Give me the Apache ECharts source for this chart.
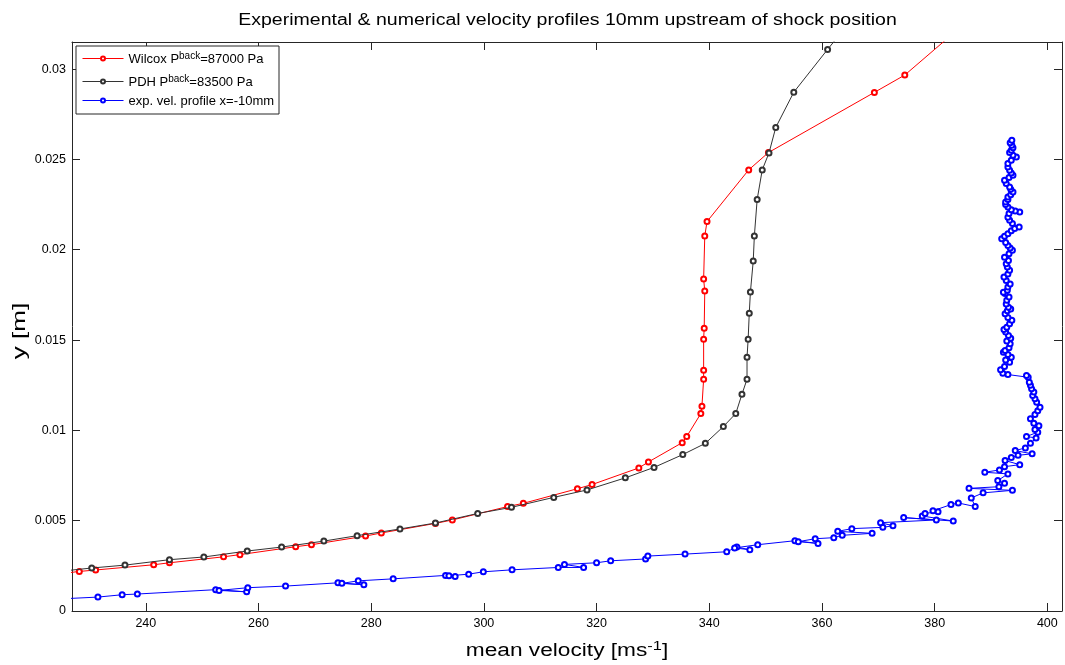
<!DOCTYPE html>
<html>
<head>
<meta charset="utf-8">
<script src="https://cdn.jsdelivr.net/npm/echarts@6/dist/echarts.min.js"></script>
<style>
html,body{margin:0;padding:0;background:#fff;}
#chart{width:1065px;height:665px;}
</style>
</head>
<body>
<div id="chart"></div>
<script>
// ---- data ----
const wilcoxV = [225.5,228.2,231.1,241.4,244.2,253.8,256.7,266.6,269.4,279.0,281.8,291.4,294.4,304.2,307.0,316.6,319.2,327.5,329.2,335.2,336.0,338.5,338.7,339.0,339.0,339.0,339.1,339.2,339.0,339.2,339.6,347.0,350.5,369.3,374.7,386.0];
const wilcoxY = [0.00209,0.00219,0.00227,0.00256,0.00267,0.00300,0.00312,0.00356,0.00367,0.00415,0.00432,0.00485,0.00504,0.00578,0.00596,0.00677,0.00700,0.00792,0.00825,0.00932,0.00966,0.01093,0.01134,0.01283,0.01333,0.01505,0.01566,0.01771,0.01838,0.02076,0.02156,0.02442,0.02538,0.02871,0.02967,0.0327];

const pdhV = [225.5,230.4,236.3,244.2,250.3,258.0,264.1,271.6,277.5,285.1,291.4,298.9,304.9,312.4,318.3,325.1,330.2,335.3,339.3,342.5,344.7,345.8,346.7,346.7,346.9,347.1,347.3,347.8,348.0,348.5,349.4,350.6,351.8,355.0,361.0,366.5];
const pdhY = [0.00222,0.00238,0.00254,0.00284,0.00299,0.00332,0.00354,0.00387,0.00417,0.00454,0.00487,0.00540,0.00574,0.00629,0.00670,0.00737,0.00795,0.00866,0.00928,0.01021,0.01093,0.01200,0.01283,0.01405,0.01505,0.01649,0.01766,0.01937,0.02076,0.02278,0.02442,0.02536,0.02677,0.02872,0.03109,0.0332];

const expV = [225.5,231.5,235.8,238.5,252.4,257.9,253.0,258.1,264.8,274.1,278.7,274.8,277.7,283.9,293.2,294.9,293.8,297.3,299.9,305.0,
  313.2,317.7,314.3,320.0,322.5,328.7,329.1,335.7,343.1,344.9,347.2,344.5,348.6,355.2,359.3,355.8,358.8,362.1,363.6,368.9,
  362.8,365.3,370.8,372.6,370.4,380.3,374.5,383.3,377.8,378.3,380.6,379.7,382.9,384.2,387.2,386.5,388.6,393.8,386.1,391.4,
  392.4,391.2,393.0,388.9,391.5,392.4,395.1,392.5,393.6,394.8,397.3,394.3,396.1,397.0,398.0,396.3,398.3,397.8,398.5,397.6,
  397.0,397.8,398.3,398.7,398.1,397.8,397.4,397.6,397.2,397.0,396.8,396.6,396.3,393.0,392.1,391.7,
  392.4,393.3,392.6,393.6,393.0,392.2,392.5,393.2,393.4,392.8,393.5,393.1,392.6,392.3,392.8,393.3,393.7,393.0,392.5,392.9,
  393.5,393.1,392.7,392.8,393.2,392.5,392.2,392.9,393.0,393.4,392.7,392.3,393.0,393.3,392.9,392.7,393.1,392.4,393.2,393.8,
  393.4,393.0,392.6,391.9,392.4,393.0,393.6,394.2,395.0,393.8,393.3,393.0,393.2,395.1,394.3,393.6,393.0,392.6,392.6,393.0,
  393.0,393.5,393.9,393.5,393.3,392.7,392.4,393.2,393.9,393.6,393.3,393.0,393.0,393.6,394.5,393.9,393.3,393.6,393.9,393.7,
  393.4,393.7];
const expY = [0.00068,0.00077,0.00090,0.00094,0.00118,0.00106,0.00114,0.00129,0.00138,0.00156,0.00145,0.00153,0.00167,0.00178,0.00197,0.00191,0.00195,0.00204,0.00217,0.00228,
  0.00241,0.00241,0.00258,0.00267,0.00278,0.00288,0.00304,0.00315,0.00328,0.00354,0.00339,0.00349,0.00367,0.00389,0.00374,0.00384,0.00400,0.00406,0.00419,0.00430,
  0.00441,0.00456,0.00463,0.00472,0.00489,0.00504,0.00517,0.00498,0.00526,0.00540,0.00550,0.00555,0.00589,0.00598,0.00578,0.00626,0.00654,0.00668,0.00679,0.00688,
  0.00707,0.00722,0.00759,0.00768,0.00781,0.00799,0.00810,0.00833,0.00850,0.00862,0.00870,0.00888,0.00903,0.00928,0.00958,0.00966,0.00990,0.01005,0.01025,0.01040,
  0.01064,0.01088,0.01108,0.01128,0.01156,0.01175,0.01193,0.01212,0.01230,0.01250,0.01267,0.01294,0.01304,0.01309,0.01316,0.01335,
  0.01354,0.01377,0.01390,0.01405,0.01420,0.01432,0.01442,0.01458,0.01479,0.01495,0.01510,0.01525,0.01545,0.01558,0.01571,0.01590,0.01609,0.01625,0.01646,0.01662,
  0.01672,0.01682,0.01700,0.01720,0.01738,0.01757,0.01765,0.01775,0.01793,0.01810,0.01830,0.01849,0.01866,0.01886,0.01905,0.01923,0.01940,0.01959,0.01978,0.01997,
  0.02010,0.02024,0.02040,0.02061,0.02075,0.02089,0.02105,0.02117,0.02126,0.02145,0.02163,0.02180,0.02200,0.02209,0.02215,0.02222,0.02237,0.02250,0.02264,0.02278,
  0.02292,0.02305,0.02320,0.02335,0.02347,0.02366,0.02385,0.02400,0.02412,0.02425,0.02440,0.02458,0.02477,0.02495,0.02514,0.02523,0.02538,0.02551,0.02565,0.02578,
  0.02592,0.02606];

const xTickInterval = 20;
const yTickInterval = 0.005;
const xMin = 226.9, xMax = 402.6;
const yMin = 0, yMax = 0.0315;

const titleText = 'Experimental & numerical velocity profiles 10mm upstream of shock position';
const xNameText = '{m|mean velocity [ms}{s|-1}{m|]}';
const yNameText = 'y [m]';
const legendLabels = {
  Wilcox: '{a|Wilcox P}{s|back}{a|=87000 Pa}',
  PDH: '{a|PDH P}{s|back}{a|=83500 Pa}',
  exp: '{a|exp. vel. profile x=-10mm}'
};

function zip(a, b) { return a.map((v, i) => [v, b[i]]); }

const FONT = '"Liberation Sans", Arial, Helvetica, sans-serif';
const AX = '#262626';

const chart = echarts.init(document.getElementById('chart'), null, {renderer: 'canvas'});

const tickCommon = {show: true, inside: true, length: 8, lineStyle: {color: AX, width: 1}};
const lineCommon = {show: true, onZero: false, lineStyle: {color: AX, width: 1}};

const legendRich = {
  a: {fontFamily: FONT, fontSize: 13, color: '#000', lineHeight: 15, verticalAlign: 'bottom'},
  s: {fontFamily: FONT, fontSize: 10, color: '#000', lineHeight: 11, padding: [0, 0, 5, 0], verticalAlign: 'top'}
};
function mkLegend(name, top) {
  return {
    data: [name], left: 82, top: top, padding: 0, itemWidth: 41, itemHeight: 5, z: 10,
    selectedMode: false, orient: 'vertical',
    lineStyle: {width: 1},
    formatter: n => legendLabels[n],
    textStyle: {fontFamily: FONT, fontSize: 13, color: '#000', rich: legendRich}
  };
}

const option = {
  animation: false,
  backgroundColor: '#fff',
  textStyle: {fontFamily: FONT},
  grid: {left: 72, top: 42, right: 3, bottom: 54, containLabel: false},
  graphic: [
    {type: 'text', x: 567.5, y: 21, scaleX: 1.22, z: 5,
     style: {text: titleText, fontSize: 16, fontFamily: FONT, fill: '#000', align: 'center', verticalAlign: 'middle'}},
    {type: 'text', x: 567, y: 650, scaleX: 1.26, z: 5,
     style: {text: xNameText, fill: '#000', align: 'center', verticalAlign: 'middle',
       rich: {
         m: {fontFamily: FONT, fontSize: 18, fill: '#000', lineHeight: 20, verticalAlign: 'bottom'},
         s: {fontFamily: FONT, fontSize: 13, fill: '#000', lineHeight: 14, padding: [0, 0, 8, 0], verticalAlign: 'top'}
       }}},
    {type: 'text', x: 20, y: 331, rotation: Math.PI / 2, scaleX: 1.45, z: 5,
     style: {text: yNameText, fontSize: 18, fontFamily: FONT, fill: '#000', align: 'center', verticalAlign: 'middle'}},
    {type: 'rect', shape: {x: 76, y: 46, width: 203, height: 68}, z: 5,
     style: {fill: '#fff', stroke: AX, lineWidth: 1}}
  ],
  legend: [mkLegend('Wilcox', 51), mkLegend('PDH', 74), mkLegend('exp', 95)],
  xAxis: [{
    type: 'value', min: xMin, max: xMax, splitNumber: 9, minInterval: xTickInterval, maxInterval: xTickInterval,
    position: 'bottom',
    axisLine: lineCommon, axisTick: tickCommon, splitLine: {show: false},
    axisLabel: {show: true, color: '#000', fontSize: 12.5, fontFamily: FONT, margin: 6, showMinLabel: false, showMaxLabel: false}
  }, {
    type: 'value', min: xMin, max: xMax, splitNumber: 9, minInterval: xTickInterval, maxInterval: xTickInterval,
    position: 'top',
    axisLine: lineCommon, axisTick: tickCommon, splitLine: {show: false}, axisLabel: {show: false}
  }],
  yAxis: [{
    type: 'value', min: yMin, max: yMax, interval: yTickInterval, position: 'left',
    axisLine: lineCommon, axisTick: tickCommon, splitLine: {show: false},
    axisLabel: {show: true, color: '#000', fontSize: 12.5, fontFamily: FONT, margin: 6, showMaxLabel: false}
  }, {
    type: 'value', min: yMin, max: yMax, interval: yTickInterval, position: 'right',
    axisLine: lineCommon, axisTick: tickCommon, splitLine: {show: false}, axisLabel: {show: false}
  }],
  series: [
    {name: 'Wilcox', type: 'line', data: zip(wilcoxV, wilcoxY), xAxisIndex: 0, yAxisIndex: 0,
     symbol: 'emptyCircle', symbolSize: 5, showAllSymbol: true, clip: true,
     lineStyle: {color: '#ff0000', width: 1}, itemStyle: {color: '#ff0000', borderWidth: 0.9}, z: 3},
    {name: 'PDH', type: 'line', data: zip(pdhV, pdhY), xAxisIndex: 0, yAxisIndex: 0,
     symbol: 'emptyCircle', symbolSize: 5, showAllSymbol: true, clip: true,
     lineStyle: {color: '#333333', width: 1}, itemStyle: {color: '#333333', borderWidth: 0.9}, z: 4},
    {name: 'exp', type: 'line', data: zip(expV, expY), xAxisIndex: 0, yAxisIndex: 0,
     symbol: 'emptyCircle', symbolSize: 5, showAllSymbol: true, clip: true,
     lineStyle: {color: '#0000ff', width: 1}, itemStyle: {color: '#0000ff', borderWidth: 0.9}, z: 2}
  ]
};
chart.setOption(option);
</script>
</body>
</html>
